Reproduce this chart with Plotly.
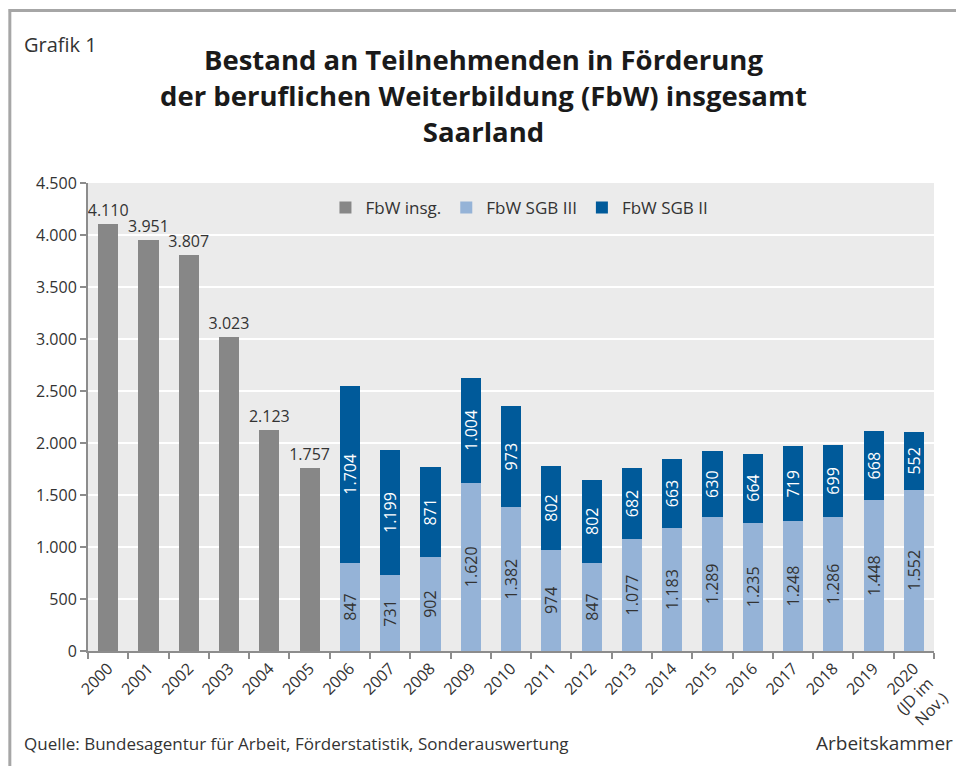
import plotly.graph_objects as go

years = ["2000", "2001", "2002", "2003", "2004", "2005", "2006", "2007", "2008", "2009",
         "2010", "2011", "2012", "2013", "2014", "2015", "2016", "2017", "2018", "2019", "2020"]
tick_labels = years[:-1] + ["2020<br>(JD im<br>Nov.)"]
fbw_insg = [4110, 3951, 3807, 3023, 2123, 1757] + [None] * 15
fbw_sgb3 = [None] * 6 + [847, 731, 902, 1620, 1382, 974, 847, 1077, 1183, 1289, 1235, 1248, 1286, 1448, 1552]
fbw_sgb2 = [None] * 6 + [1704, 1199, 871, 1004, 973, 802, 802, 682, 663, 630, 664, 719, 699, 668, 552]

FONT = "Open Sans"
TXT = "#333333"

fig = go.Figure()
fig.add_trace(go.Bar(x=years, y=fbw_insg, name="FbW insg.", marker=dict(color="#878787", line=dict(width=0)),
                     texttemplate="%{y:,}", textposition="outside", textangle=0, constraintext="none",
                     textfont=dict(size=16, color=TXT, family=FONT), cliponaxis=False))
fig.add_trace(go.Bar(x=years, y=fbw_sgb3, name="FbW SGB III", marker=dict(color="#95b3d7", line=dict(width=0)),
                     texttemplate="%{y:,}", textposition="inside", insidetextanchor="middle", textangle=-90,
                     constraintext="none", textfont=dict(size=16, color=TXT, family=FONT)))
fig.add_trace(go.Bar(x=years, y=fbw_sgb2, name="FbW SGB II", marker=dict(color="#005a9a", line=dict(width=0)),
                     texttemplate="%{y:,}", textposition="inside", insidetextanchor="middle", textangle=-90,
                     constraintext="none", textfont=dict(size=16, color="white", family=FONT)))

# the page has an 8px body margin; work in page coordinates and convert
OFF = 8
W, H = 956, 758
PL, PR, PT, PB = 88, 943, 183, 651  # plot area in page pixels
L, R, T, B = PL - OFF, W - (PR - OFF), PT - OFF, H - (PB - OFF)
pw, ph = PR - PL, PB - PT

def px(x):
    return (x - PL) / pw

def py(y):
    return (PB - y) / ph

fig.update_layout(
    width=W, height=H,
    margin=dict(l=L, r=R, t=T, b=B),
    paper_bgcolor="white", plot_bgcolor="#ebebeb",
    barmode="stack", bargap=0.5,
    separators=",.",
    font=dict(family=FONT, size=16, color=TXT),
    showlegend=True,
    legend=dict(orientation="h", x=0.51, xanchor="center", y=py(190), yanchor="top",
                bgcolor="rgba(0,0,0,0)", font=dict(size=17, color=TXT, family=FONT),
                traceorder="normal", itemclick=False),
    xaxis=dict(type="category", tickvals=years, ticktext=tick_labels, tickangle=-45,
               ticks="outside", tickson="boundaries", ticklen=6, tickwidth=2, tickcolor="#8c8c8c",
               showline=True, linecolor="#8c8c8c", linewidth=2, showgrid=False,
               tickfont=dict(size=16, color=TXT, family=FONT)),
    yaxis=dict(range=[0, 4500], dtick=500, tickformat=",", ticks="outside", ticklen=6, tickwidth=2,
               tickcolor="#8c8c8c", showline=True, linecolor="#8c8c8c", linewidth=2,
               showgrid=True, gridcolor="white", gridwidth=2, zeroline=False,
               tickfont=dict(size=16, color=TXT, family=FONT)),
)

# title
fig.add_annotation(xref="paper", yref="paper", x=px(488), y=py(95), xanchor="center", yanchor="middle",
                   text="<b>Bestand an Teilnehmenden in Förderung<br>der beruflichen Weiterbildung (FbW) insgesamt<br>Saarland</b>",
                   showarrow=False, font=dict(size=27.5, color="#1a1a1a", family=FONT), align="center")
fig.add_annotation(xref="paper", yref="paper", x=px(21), y=py(45), xanchor="left", yanchor="middle",
                   text="Grafik 1", showarrow=False, font=dict(size=20, color=TXT, family=FONT))
fig.add_annotation(xref="paper", yref="paper", x=px(21), y=py(743), xanchor="left", yanchor="middle",
                   text="Quelle: Bundesagentur für Arbeit, Förderstatistik, Sonderauswertung",
                   showarrow=False, font=dict(size=17, color=TXT, family=FONT))
fig.add_annotation(xref="paper", yref="paper", x=px(964), y=py(743), xanchor="right", yanchor="middle",
                   text="Arbeitskammer", showarrow=False, font=dict(size=19, color=TXT, family=FONT))

# frame
fig.add_shape(type="line", xref="paper", yref="paper", x0=px(9), x1=px(9), y0=py(9), y1=py(800),
              line=dict(color="#a6a6a6", width=3))
fig.add_shape(type="line", xref="paper", yref="paper", x0=px(8), x1=px(1000), y0=py(10.5), y1=py(10.5),
              line=dict(color="#a6a6a6", width=3))

fig.write_html("out.html")
